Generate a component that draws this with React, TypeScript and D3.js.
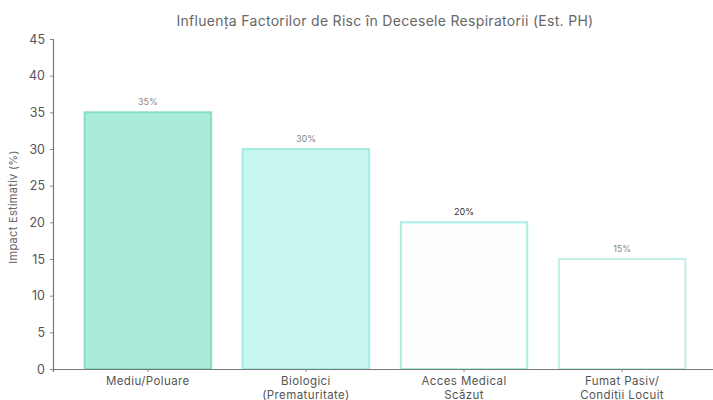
import { useRef, useEffect } from 'react';
import * as d3 from 'd3';

const categories = [
  ['Mediu/Poluare'],
  ['Biologici', '(Prematuritate)'],
  ['Acces Medical', 'Scăzut'],
  ['Fumat Pasiv/', 'Condiții Locuit'],
];
const values = [35, 30, 20, 15];
const valueLabels = ['35%', '30%', '20%', '15%'];
const yTicks = [0, 5, 10, 15, 20, 25, 30, 35, 40, 45];
const fills = ['#a8ecd9', '#c8f6f0', '#fcfffe', '#ffffff'];
const strokes = ['#86dcc3', '#a5ebe3', '#acece1', '#c2efe8'];
const labelColors = ['#888', '#888', '#333', '#888'];

const width = 713;
const height = 400;

export default function App() {
  const svgRef = useRef<SVGSVGElement>(null);

  useEffect(() => {
    if (!svgRef.current) return;
    const svg = d3.select(svgRef.current);
    svg.selectAll('*').remove();

    const margin = { top: 39, right: 0, bottom: 31, left: 53 };
    const innerWidth = width - margin.left - margin.right;
    const innerHeight = height - margin.top - margin.bottom;

    const g = svg
      .append('g')
      .attr('transform', `translate(${margin.left},${margin.top})`);

    const keys = categories.map((c) => c.join(' '));
    const xScale = d3.scaleBand().domain(keys).range([0, innerWidth + 4]).padding(0.2);
    const yScale = d3.scaleLinear().domain([0, 45]).range([innerHeight, 0]);

    // title
    svg
      .append('text')
      .attr('x', 385)
      .attr('y', 26)
      .attr('text-anchor', 'middle')
      .attr('font-size', 14)
      .attr('letter-spacing', 0.3)
      .attr('fill', '#666')
      .text('Influența Factorilor de Risc în Decesele Respiratorii (Est. PH)');

    // bars
    g.selectAll('.bar')
      .data(values)
      .join('rect')
      .attr('class', 'bar')
      .attr('x', (_, i) => xScale(keys[i]) || 0)
      .attr('y', (d) => yScale(d))
      .attr('width', xScale.bandwidth())
      .attr('height', (d) => innerHeight - yScale(d))
      .attr('fill', (_, i) => fills[i])
      .attr('stroke', (_, i) => strokes[i])
      .attr('stroke-width', 2);

    g.selectAll('.vlabel')
      .data(values)
      .join('text')
      .attr('class', 'vlabel')
      .attr('x', (_, i) => (xScale(keys[i]) || 0) + xScale.bandwidth() / 2)
      .attr('y', (d) => yScale(d) - 7)
      .attr('text-anchor', 'middle')
      .attr('font-size', 9)
      .attr('fill', (_, i) => labelColors[i])
      .text((_, i) => valueLabels[i]);

    // y axis
    const yAxis = g
      .append('g')
      .call(d3.axisLeft(yScale).tickValues(yTicks).tickSize(3).tickPadding(5));
    yAxis.select('.domain').attr('stroke', '#777').attr('stroke-width', 1.2);
    yAxis.selectAll('line').attr('stroke', '#888');
    yAxis.selectAll('text').attr('font-size', 12.5).attr('fill', '#555').attr('font-family', 'Inter');

    // x axis
    const xAxis = g
      .append('g')
      .attr('transform', `translate(0,${innerHeight})`)
      .call(d3.axisBottom(xScale).tickSize(3).tickFormat(() => ''));
    xAxis.select('.domain').attr('stroke', '#777').attr('stroke-width', 1.2);
    xAxis.selectAll('line').attr('stroke', '#888');

    // x labels, one text per line
    const lines = categories.flatMap((c, i) => c.map((t, j) => ({ t, i, j })));
    g.selectAll('.xlabel')
      .data(lines)
      .join('text')
      .attr('class', 'xlabel')
      .attr('x', (d) => (xScale(keys[d.i]) || 0) + xScale.bandwidth() / 2)
      .attr('y', (d) => innerHeight + 16 + d.j * 13.5)
      .attr('text-anchor', 'middle')
      .attr('font-size', 11.5)
      .attr('letter-spacing', 0.4)
      .attr('fill', '#555')
      .text((d) => d.t);

    // y label
    svg
      .append('text')
      .attr('transform', 'rotate(-90)')
      .attr('x', -207)
      .attr('y', 17)
      .attr('text-anchor', 'middle')
      .attr('font-size', 11)
      .attr('letter-spacing', 0.3)
      .attr('fill', '#666')
      .text('Impact Estimativ (%)');
  }, []);

  return (
    <svg
      ref={svgRef}
      width={width}
      height={height}
      style={{ position: 'absolute', left: 0, top: 0, fontFamily: 'Inter, sans-serif', background: '#fff' }}
    />
  );
}
